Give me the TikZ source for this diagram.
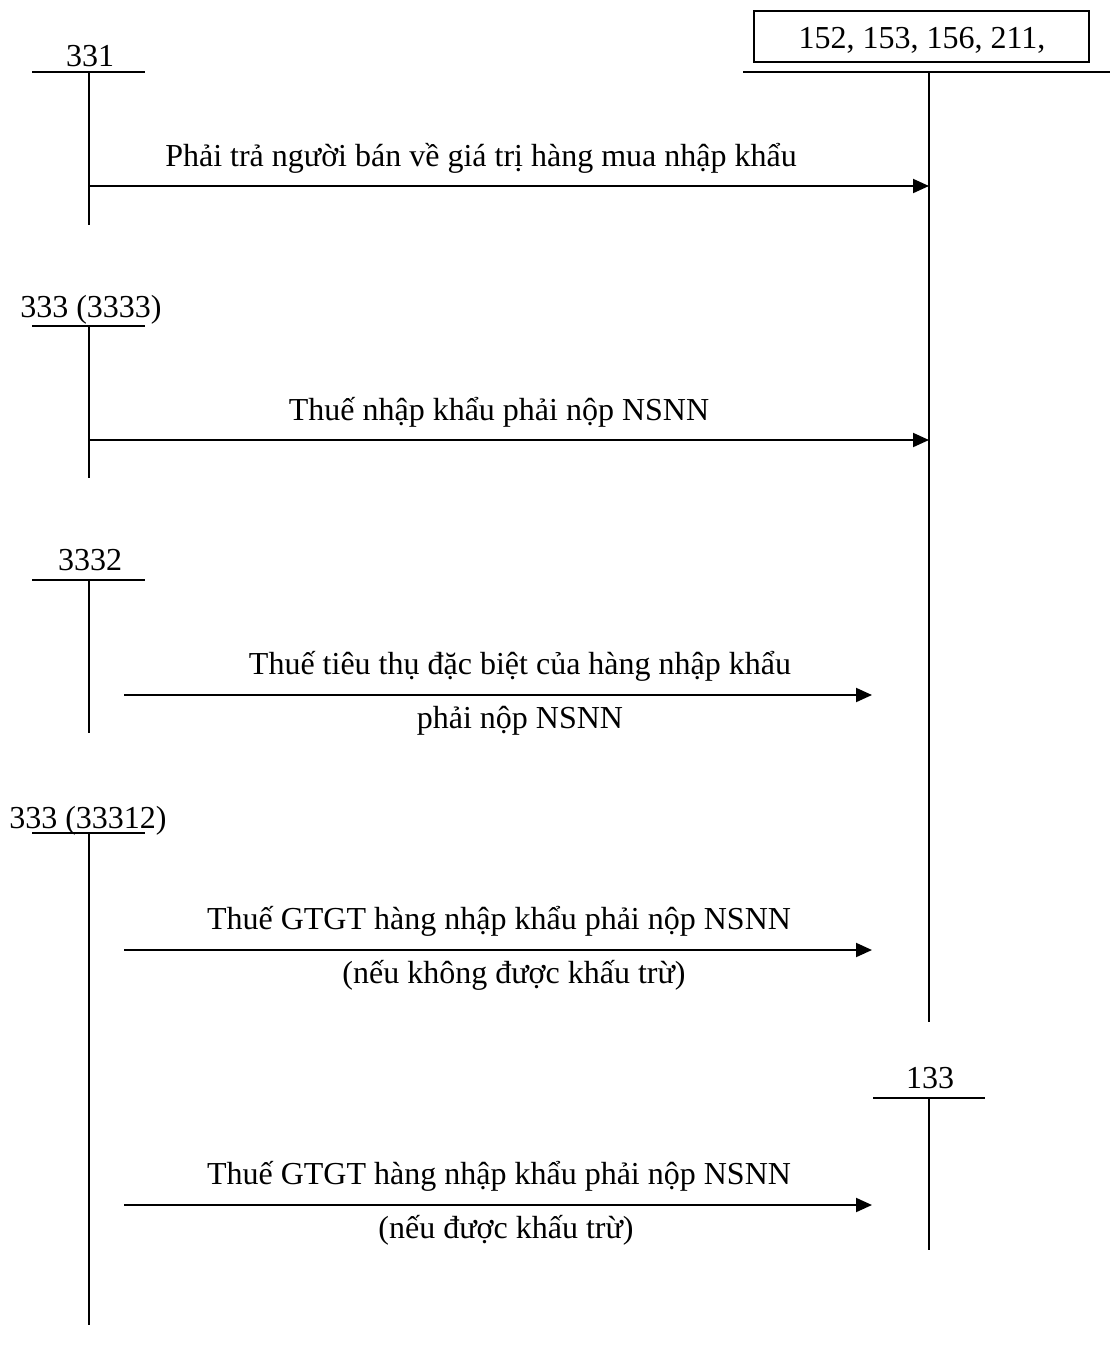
\documentclass[tikz,border=0pt]{standalone}
\usepackage{fontspec}
\setmainfont{Liberation Serif}
\usetikzlibrary{arrows.meta}
\begin{document}
\begin{tikzpicture}[x=1pt,y=-1pt,
  rule/.style={line width=2pt},
  flow/.style={line width=2pt,-{Triangle[length=16pt,width=14pt]}},
  lbl/.style={anchor=base,inner sep=0pt,font=\fontsize{32}{38}\selectfont},
  acct/.style={anchor=base,inner sep=0pt,font=\fontsize{32}{38}\selectfont}]
\useasboundingbox (0,0) rectangle (1110,1350);

% account 331
\node[acct] (a331) at (90,66) {331};
\coordinate (h331l) at (32,72); \coordinate (h331r) at (145,72);
\coordinate (v331t) at (89,72); \coordinate (v331b) at (89,225);
\draw[rule] (h331l) -- (h331r);
\draw[rule] (v331t) -- (v331b);

% account 152, 153, 156, 211 (framed heading)
\node[acct,draw,line width=2pt,anchor=center,minimum width=335pt,minimum height=51pt,text depth=0pt] (box152) at (921.5,36.5) {};
\node[acct] (a152) at (922,48) {152, 153, 156, 211,};
\coordinate (h152l) at (743,72); \coordinate (h152r) at (1110,72);
\coordinate (v152t) at (929,72); \coordinate (v152b) at (929,1022);
\draw[rule] (h152l) -- (h152r);
\draw[rule] (v152t) -- (v152b);

% account 333 (3333)
\node[acct] (a3333) at (91,317) {333 (3333)};
\coordinate (h3333l) at (32,326); \coordinate (h3333r) at (145,326);
\coordinate (v3333t) at (89,326); \coordinate (v3333b) at (89,478);
\draw[rule] (h3333l) -- (h3333r);
\draw[rule] (v3333t) -- (v3333b);

% account 3332
\node[acct] (a3332) at (90,570) {3332};
\coordinate (h3332l) at (32,580); \coordinate (h3332r) at (145,580);
\coordinate (v3332t) at (89,580); \coordinate (v3332b) at (89,733);
\draw[rule] (h3332l) -- (h3332r);
\draw[rule] (v3332t) -- (v3332b);

% account 333 (33312)
\node[acct] (a33312) at (88,828) {333 (33312)};
\coordinate (h33312l) at (32,833); \coordinate (h33312r) at (145,833);
\coordinate (v33312t) at (89,833); \coordinate (v33312b) at (89,1325);
\draw[rule] (h33312l) -- (h33312r);
\draw[rule] (v33312t) -- (v33312b);

% account 133
\node[acct] (a133) at (930,1088) {133};
\coordinate (h133l) at (873,1098); \coordinate (h133r) at (985,1098);
\coordinate (v133t) at (929,1098); \coordinate (v133b) at (929,1250);
\draw[rule] (h133l) -- (h133r);
\draw[rule] (v133t) -- (v133b);

% entries
\coordinate (s1) at (89,186); \coordinate (e1) at (929,186);
\draw[flow] (s1) -- (e1);
\node[lbl] (t1) at (481,166) {Phải trả người bán về giá trị hàng mua nhập khẩu};

\coordinate (s2) at (89,440); \coordinate (e2) at (929,440);
\draw[flow] (s2) -- (e2);
\node[lbl] (t2) at (499,420) {Thuế nhập khẩu phải nộp NSNN};

\coordinate (s3) at (124,695); \coordinate (e3) at (872,695);
\draw[flow] (s3) -- (e3);
\node[lbl] (t3a) at (520,674) {Thuế tiêu thụ đặc biệt của hàng nhập khẩu};
\node[lbl] (t3b) at (520,728) {phải nộp NSNN};

\coordinate (s4) at (124,950); \coordinate (e4) at (872,950);
\draw[flow] (s4) -- (e4);
\node[lbl] (t4a) at (499,929) {Thuế GTGT hàng nhập khẩu phải nộp NSNN};
\node[lbl] (t4b) at (514,983) {(nếu không được khấu trừ)};

\coordinate (s5) at (124,1205); \coordinate (e5) at (872,1205);
\draw[flow] (s5) -- (e5);
\node[lbl] (t5a) at (499,1184) {Thuế GTGT hàng nhập khẩu phải nộp NSNN};
\node[lbl] (t5b) at (506,1238) {(nếu được khấu trừ)};
\end{tikzpicture}
\end{document}
